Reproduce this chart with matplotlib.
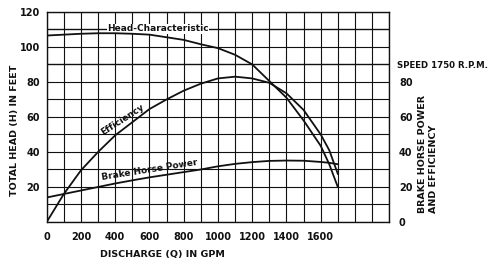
"""
Centrifugal pump characteristic curves (head, efficiency, brake horse power).
"""
import matplotlib
matplotlib.use("Agg")
import matplotlib.pyplot as plt

# discharge in GPM
gpm = [0, 100, 200, 300, 400, 500, 600, 700, 800, 900,
       1000, 1100, 1200, 1300, 1400, 1500, 1600, 1650, 1700]
# total head in feet
head = [106.5, 107, 107.5, 107.8, 107.8, 107.5, 107, 105.5, 104, 101.5,
        99.3, 95.5, 90, 80.5, 71, 58, 43.5, 33, 20]
# efficiency in percent
efficiency = [0, 16, 29.5, 40, 49.5, 57, 64.5, 70, 75, 79,
              82, 83, 82, 79.5, 73.5, 64, 50, 41, 27.5]
# brake horse power
bhp = [14, 16, 18, 20, 22, 23.8, 25.5, 27, 28.5, 30,
       31.8, 33.2, 34.2, 34.9, 35.1, 35, 34.3, 33.8, 33]

x_ticks = [0, 200, 400, 600, 800, 1000, 1200, 1400, 1600]
left_ticks = [20, 40, 60, 80, 100, 120]
right_ticks = [0, 20, 40, 60, 80]

plt.rcParams["font.family"] = "DejaVu Sans"
plt.rcParams["font.weight"] = "bold"

fig = plt.figure(figsize=(5, 2.67), dpi=100)
fig.patch.set_facecolor("white")
ax = fig.add_axes([0.0934, 0.1685, 0.685, 0.787])

ink = "#111111"

# grid every 100 GPM / 10 ft
for gx in range(0, 2001, 100):
    ax.axvline(gx, color=ink, lw=0.8, zorder=1)
for gy in range(0, 121, 10):
    lw = 1.0 if gy in (90, 110) else 0.8
    ax.axhline(gy, color=ink, lw=lw, zorder=1)

ax.plot(gpm, head, color=ink, lw=1.3, zorder=5)
ax.plot(gpm, efficiency, color=ink, lw=1.3, zorder=5)
ax.plot(gpm, bhp, color=ink, lw=1.3, zorder=5)

ax.set_xlim(0, 2000)
ax.set_ylim(0, 120)
ax.set_xticks(x_ticks)
ax.set_yticks(left_ticks)
ax.tick_params(length=0, labelsize=7, colors=ink)
ax.tick_params(axis="x", pad=7)
ax.tick_params(axis="y", pad=5)
for lbl in ax.get_xticklabels() + ax.get_yticklabels():
    lbl.set_fontweight("bold")
for sp in ax.spines.values():
    sp.set_color(ink)
    sp.set_linewidth(1.0)

ax2 = ax.twinx()
ax2.set_ylim(0, 120)
ax2.set_yticks(right_ticks)
ax2.tick_params(length=0, labelsize=7, colors=ink, pad=7)
for lbl in ax2.get_yticklabels():
    lbl.set_fontweight("bold")
for sp in ax2.spines.values():
    sp.set_visible(False)

# curve labels
ax.text(650, 110.3, "Head-Characteristic", fontsize=6.5, fontweight="bold",
        ha="center", va="center", color=ink, zorder=4,
        bbox=dict(facecolor="white", edgecolor="none", pad=0.3))
ax.text(440, 58.5, "Efficiency", fontsize=6.5, fontweight="bold",
        ha="center", va="center", rotation=33, color=ink, zorder=4)
ax.text(600, 29.5, "Brake Horse Power", fontsize=6.5, fontweight="bold",
        ha="center", va="center", rotation=9, color=ink, zorder=4)

fig.text(0.794, 1 - 65 / 267, "SPEED 1750 R.P.M.", fontsize=6.2,
         fontweight="bold", ha="left", va="center", color=ink)

fig.text(0.03, 1 - 130 / 267, "TOTAL HEAD (H) IN FEET", fontsize=6.8,
         fontweight="bold", rotation=90, ha="center", va="center", color=ink)
fig.text(0.324, 1 - 254 / 267, "DISCHARGE (Q) IN GPM", fontsize=6.8,
         fontweight="bold", ha="center", va="center", color=ink)
fig.text(0.856, 1 - 213 / 267, "BRAKE HORSE POWER\nAND EFFICIENCY",
         fontsize=6.8, fontweight="bold", rotation=90, ha="center",
         va="bottom", multialignment="left", color=ink, linespacing=1.3)

fig.savefig("out.png", dpi=100, facecolor=fig.get_facecolor())
